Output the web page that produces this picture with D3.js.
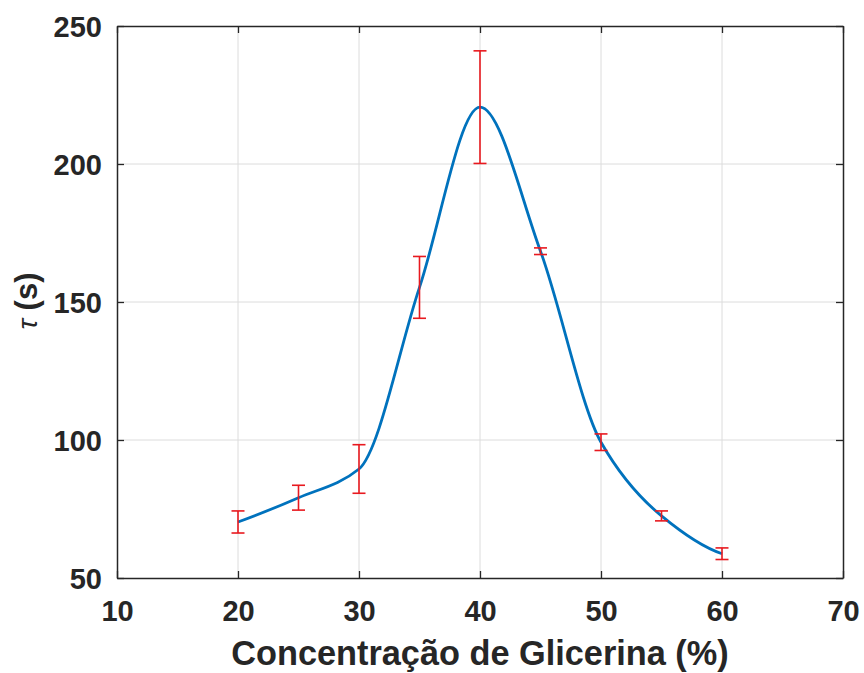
<!DOCTYPE html>
<html><head><meta charset="utf-8">
<script src="https://cdn.jsdelivr.net/npm/d3@7"></script>
<style>body{margin:0;background:#fff}</style>
</head><body>
<svg id="c" width="864" height="673"></svg>
<script>
const concentration = [20, 25, 30, 35, 40, 45, 50, 55, 60];
const tau = [70.3, 79.1, 89.5, 155.3, 220.6, 168.4, 99.2, 72.5, 58.8];
const tauErr = [4.0, 4.5, 8.8, 11.2, 20.4, 1.2, 3.0, 1.8, 2.1];
const xTicks = [10, 20, 30, 40, 50, 60, 70];
const yTicks = [50, 100, 150, 200, 250];

// custom d3 curve: piecewise cubic Hermite (pchip, as in MATLAB)
function curvePchip(context) {
  let xs, ys;
  return {
    areaStart() {}, areaEnd() {},
    lineStart() { xs = []; ys = []; },
    point(px, py) { xs.push(+px); ys.push(+py); },
    lineEnd() {
      const n = xs.length;
      if (n === 0) return;
      context.moveTo(xs[0], ys[0]);
      if (n === 1) return;
      const h = [], s = [];
      for (let i = 0; i < n - 1; i++) { h.push(xs[i+1] - xs[i]); s.push((ys[i+1] - ys[i]) / h[i]); }
      const d = new Array(n).fill(0);
      for (let k = 1; k < n - 1; k++) {
        if (s[k-1] * s[k] > 0) {
          const w1 = 2 * h[k] + h[k-1], w2 = h[k] + 2 * h[k-1];
          d[k] = (w1 + w2) / (w1 / s[k-1] + w2 / s[k]);
        }
      }
      const endSlope = (h0, h1, s0, s1) => {
        let e = ((2 * h0 + h1) * s0 - h0 * s1) / (h0 + h1);
        if (Math.sign(e) !== Math.sign(s0)) e = 0;
        else if (Math.sign(s0) !== Math.sign(s1) && Math.abs(e) > Math.abs(3 * s0)) e = 3 * s0;
        return e;
      };
      if (n > 2) {
        d[0] = endSlope(h[0], h[1], s[0], s[1]);
        d[n-1] = endSlope(h[n-2], h[n-3], s[n-2], s[n-3]);
      } else { d[0] = d[1] = s[0]; }
      for (let i = 0; i < n - 1; i++) {
        const dx = h[i] / 3;
        context.bezierCurveTo(xs[i] + dx, ys[i] + d[i] * dx, xs[i+1] - dx, ys[i+1] - d[i+1] * dx, xs[i+1], ys[i+1]);
      }
    }
  };
}

const svg = d3.select("#c");
const L = 117, R = 843, T = 26, B = 578;
const x = d3.scaleLinear().domain([10, 70]).range([L, R]);
const y = d3.scaleLinear().domain([50, 250]).range([B, T]);
const axisCol = "#262626";
const font = "'Liberation Sans', Arial, sans-serif";

// grid
svg.append("g").selectAll("line").data(xTicks.slice(1, -1)).join("line")
  .attr("x1", d => x(d)).attr("x2", d => x(d)).attr("y1", T).attr("y2", B)
  .attr("stroke", "#dcdcdc").attr("stroke-width", 1);
svg.append("g").selectAll("line").data(yTicks.slice(1, -1)).join("line")
  .attr("y1", d => y(d)).attr("y2", d => y(d)).attr("x1", L).attr("x2", R)
  .attr("stroke", "#dcdcdc").attr("stroke-width", 1);

// axes (inward ticks on all four sides)
const tl = 7;
const gx = svg.append("g").attr("transform", `translate(0,${B})`)
  .call(d3.axisBottom(x).tickValues(xTicks).tickSizeInner(-tl).tickSizeOuter(0).tickPadding(22));
const gxt = svg.append("g").attr("transform", `translate(0,${T})`)
  .call(d3.axisTop(x).tickValues(xTicks).tickSizeInner(-tl).tickSizeOuter(0).tickFormat(""));
const gy = svg.append("g").attr("transform", `translate(${L},0)`)
  .call(d3.axisLeft(y).tickValues(yTicks).tickSizeInner(-tl).tickSizeOuter(0).tickPadding(15));
const gyr = svg.append("g").attr("transform", `translate(${R},0)`)
  .call(d3.axisRight(y).tickValues(yTicks).tickSizeInner(-tl).tickSizeOuter(0).tickFormat(""));
[gx, gxt, gy, gyr].forEach(g => {
  g.select(".domain").attr("stroke", axisCol).attr("stroke-width", 1.5);
  g.selectAll(".tick line").attr("stroke", axisCol).attr("stroke-width", 1.3);
  g.selectAll("text").attr("fill", "#262626").attr("font-family", font)
    .attr("font-weight", "bold").attr("font-size", 29);
});
gy.selectAll("text").attr("dy", "0.35em");

// curve
const pts = concentration.map((c, i) => [c, tau[i]]);
const line = d3.line().x(d => x(d[0])).y(d => y(d[1])).curve(curvePchip);
svg.append("path").attr("d", line(pts)).attr("fill", "none")
  .attr("stroke", "#0072BD").attr("stroke-width", 2.8);

// error bars
const cap = 6.5;
const eb = svg.append("g").attr("stroke", "#e8191f").attr("stroke-width", 1.6).attr("fill", "none");
concentration.forEach((c, i) => {
  const cx = x(c), y0 = y(tau[i] - tauErr[i]), y1 = y(tau[i] + tauErr[i]);
  eb.append("line").attr("x1", cx).attr("x2", cx).attr("y1", y0).attr("y2", y1);
  eb.append("line").attr("x1", cx - cap).attr("x2", cx + cap).attr("y1", y0).attr("y2", y0);
  eb.append("line").attr("x1", cx - cap).attr("x2", cx + cap).attr("y1", y1).attr("y2", y1);
});

// labels
svg.append("text").attr("x", (L + R) / 2).attr("y", 665).attr("text-anchor", "middle")
  .attr("font-family", font).attr("font-weight", "bold").attr("font-size", 34.3).attr("fill", "#262626")
  .text("Concentração de Glicerina (%)");
const yl = svg.append("text").attr("transform", `translate(37,${(T + B) / 2 - 1}) rotate(-90)`)
  .attr("text-anchor", "middle").attr("font-family", font).attr("fill", "#262626");
yl.append("tspan").attr("font-size", 28).attr("font-style", "italic").text("τ");
yl.append("tspan").attr("font-size", 31).attr("font-weight", "bold").text(" (s)");
</script>
</body></html>
